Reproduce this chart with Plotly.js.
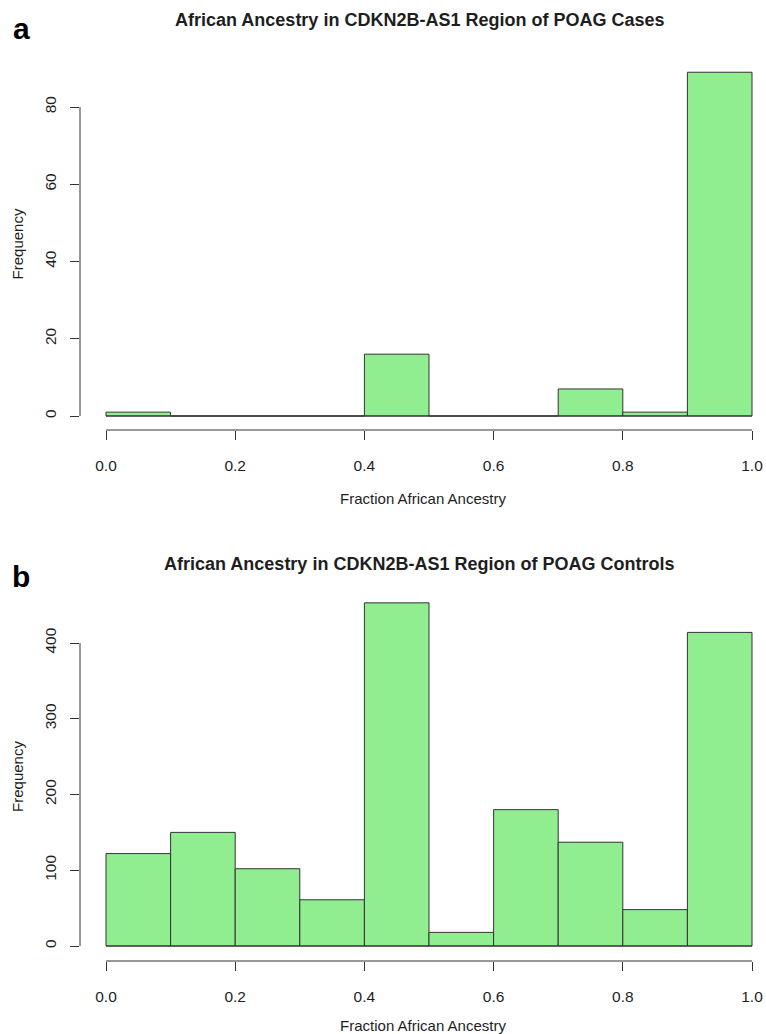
<!DOCTYPE html>
<html>
<head>
<meta charset="utf-8">
<script src="https://cdn.plot.ly/plotly-3.0.1.min.js"></script>
<style>html,body{margin:0;padding:0;background:#fff}#chart{width:766px;height:1034px}</style>
</head>
<body>
<div id="chart"></div>
<script>
// ---- data ----
const binEdges = [0, 0.1, 0.2, 0.3, 0.4, 0.5, 0.6, 0.7, 0.8, 0.9, 1.0];
const casesCounts = [1, 0, 0, 0, 16, 0, 0, 7, 1, 89];
const controlsCounts = [122, 150, 102, 61, 453, 18, 180, 137, 48, 414];
const xTickVals = [0, 0.2, 0.4, 0.6, 0.8, 1.0];
const xTickText = ["0.0", "0.2", "0.4", "0.6", "0.8", "1.0"];
const casesYTicks = [0, 20, 40, 60, 80];
const controlsYTicks = [0, 100, 200, 300, 400];
const titleCases = "African Ancestry in CDKN2B-AS1 Region of POAG Cases";
const titleControls = "African Ancestry in CDKN2B-AS1 Region of POAG Controls";
const xTitle = "Fraction African Ancestry";
const yTitle = "Frequency";

// ---- layout geometry (pixels) ----
const W = 766, H = 1034;
const plotLeft = 80, plotRight = 766;
const x0px = 106, x1px = 752;
const pxPerX = (x1px - x0px) / 1.0;
const xRange = [(plotLeft - x0px) / pxPerX, (plotRight - x0px) / pxPerX];

function panel(top, axisBottom, zeroPx, tickTopVal, tickTopPx) {
  const ppu = (zeroPx - tickTopPx) / tickTopVal;
  return {
    domain: [1 - axisBottom / H, 1 - top / H],
    range: [-(axisBottom - zeroPx) / ppu, (zeroPx - top) / ppu]
  };
}
const pA = panel(58, 430, 416, 80, 107);
const pB = panel(592, 961, 946, 400, 643);

const centers = binEdges.slice(0, -1).map((e, i) => (e + binEdges[i + 1]) / 2);
const widths = binEdges.slice(0, -1).map((e, i) => binEdges[i + 1] - e);

const fontFam = "Liberation Sans, Arial, Helvetica, sans-serif";
const ink = "#1e1e1e";
const barStyle = { color: "#90EE90", line: { color: "#333333", width: 1 } };

const traces = [
  { type: "bar", x: centers, y: casesCounts, width: widths, marker: barStyle, xaxis: "x", yaxis: "y", hoverinfo: "x+y" },
  { type: "bar", x: centers, y: controlsCounts, width: widths, marker: barStyle, xaxis: "x2", yaxis: "y2", hoverinfo: "x+y" }
];

function xAxis(anchor) {
  return {
    domain: [plotLeft / W, plotRight / W], range: xRange, anchor: anchor,
    showline: false, showgrid: false, zeroline: false,
    ticks: "outside", ticklen: 9, tickwidth: 1, tickcolor: "#333",
    tickvals: xTickVals, ticktext: xTickText, ticklabelstandoff: 12,
    tickfont: { family: fontFam, size: 15.5, color: ink },
    title: { text: xTitle, font: { family: fontFam, size: 15, color: ink }, standoff: 20 },
    automargin: false
  };
}
function yAxis(p, ticks, anchor) {
  return {
    domain: p.domain, range: p.range, anchor: anchor,
    showline: false, showgrid: false, zeroline: false,
    ticks: "outside", ticklen: 9, tickwidth: 1, tickcolor: "#333",
    tickvals: ticks, tickangle: -90, ticklabelstandoff: 8,
    tickfont: { family: fontFam, size: 15.5, color: ink },
    title: { text: yTitle, font: { family: fontFam, size: 15, color: ink }, standoff: 14 },
    automargin: false
  };
}

function axisShapes(xa, ya, ticks, p) {
  return [
    { type: "line", xref: "paper", yref: ya, x0: plotLeft / W, x1: plotLeft / W,
      y0: ticks[0], y1: ticks[ticks.length - 1], line: { color: "#333", width: 1 } },
    { type: "line", xref: xa, yref: "paper", x0: xTickVals[0], x1: xTickVals[xTickVals.length - 1],
      y0: p.domain[0], y1: p.domain[0], line: { color: "#333", width: 1 } },
    { type: "line", xref: xa, yref: ya, x0: binEdges[0], x1: binEdges[binEdges.length - 1],
      y0: 0, y1: 0, line: { color: "#333", width: 1 } }
  ];
}

const titleX = ((plotLeft + plotRight) / 2 - 4) / W;
const layout = {
  width: W, height: H,
  margin: { l: 0, r: 0, t: 0, b: 0 },
  paper_bgcolor: "#fff", plot_bgcolor: "rgba(0,0,0,0)",
  showlegend: false, bargap: 0,
  xaxis: xAxis("y"), yaxis: yAxis(pA, casesYTicks, "x"),
  xaxis2: xAxis("y2"), yaxis2: yAxis(pB, controlsYTicks, "x2"),
  shapes: [].concat(axisShapes("x", "y", casesYTicks, pA), axisShapes("x2", "y2", controlsYTicks, pB)),
  annotations: [
    { text: "<b>" + titleCases + "</b>", xref: "paper", yref: "paper", x: titleX, y: 1 - 20 / H,
      xanchor: "center", yanchor: "middle", showarrow: false, font: { family: fontFam, size: 18, color: ink } },
    { text: "<b>" + titleControls + "</b>", xref: "paper", yref: "paper", x: titleX, y: 1 - 564 / H,
      xanchor: "center", yanchor: "middle", showarrow: false, font: { family: fontFam, size: 18, color: ink } },
    { text: "<b>a</b>", xref: "paper", yref: "paper", x: 21 / W, y: 1 - 28 / H,
      xanchor: "center", yanchor: "middle", showarrow: false, font: { family: fontFam, size: 30, color: "#000" } },
    { text: "<b>b</b>", xref: "paper", yref: "paper", x: 21 / W, y: 1 - 576 / H,
      xanchor: "center", yanchor: "middle", showarrow: false, font: { family: fontFam, size: 30, color: "#000" } }
  ]
};

Plotly.newPlot("chart", traces, layout, { staticPlot: true, displayModeBar: false });
</script>
</body>
</html>
